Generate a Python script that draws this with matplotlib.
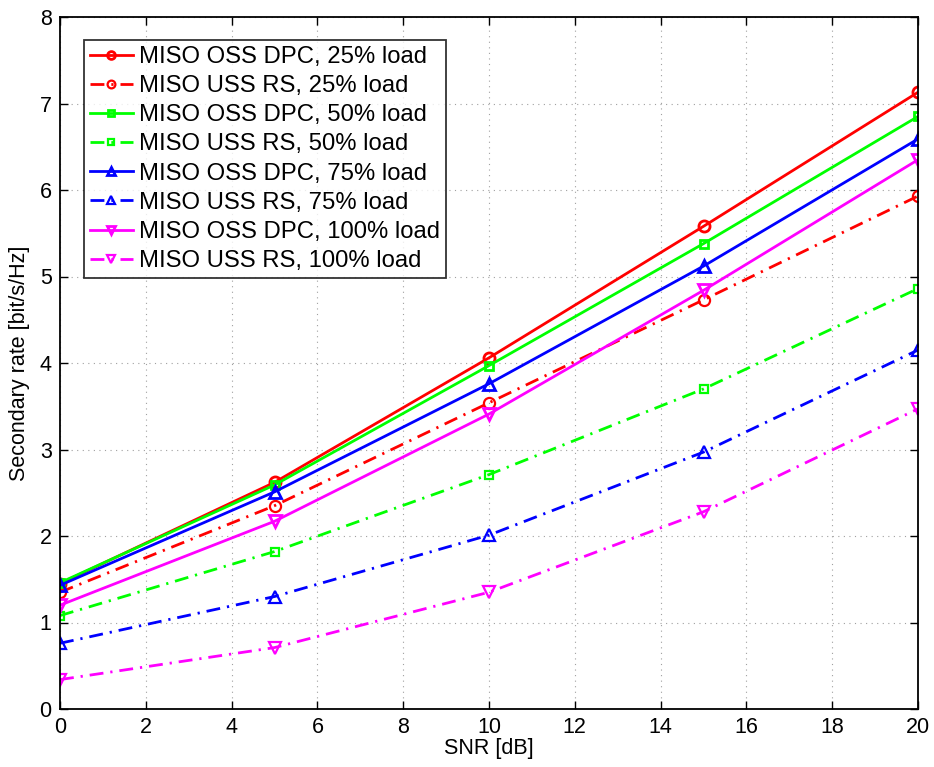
import matplotlib
matplotlib.use("Agg")
import matplotlib.pyplot as plt

plt.rcParams['font.family'] = ['Liberation Sans', 'DejaVu Sans']

snr_db = [0, 5, 10, 15, 20]

oss_dpc_25 = [1.45, 2.62, 4.06, 5.58, 7.13]
uss_rs_25 = [1.35, 2.35, 3.54, 4.73, 5.93]
oss_dpc_50 = [1.46, 2.59, 3.97, 5.38, 6.85]
uss_rs_50 = [1.08, 1.82, 2.71, 3.70, 4.86]
oss_dpc_75 = [1.43, 2.51, 3.76, 5.12, 6.59]
uss_rs_75 = [0.76, 1.30, 2.01, 2.97, 4.15]
oss_dpc_100 = [1.20, 2.17, 3.41, 4.84, 6.35]
uss_rs_100 = [0.34, 0.71, 1.35, 2.28, 3.47]

labels = [
    "MISO OSS DPC, 25% load",
    "MISO USS RS, 25% load",
    "MISO OSS DPC, 50% load",
    "MISO USS RS, 50% load",
    "MISO OSS DPC, 75% load",
    "MISO USS RS, 75% load",
    "MISO OSS DPC, 100% load",
    "MISO USS RS, 100% load",
]
series = [oss_dpc_25, uss_rs_25, oss_dpc_50, uss_rs_50,
          oss_dpc_75, uss_rs_75, oss_dpc_100, uss_rs_100]
colors = ["#ff0000", "#ff0000", "#00ff00", "#00ff00",
          "#0000ff", "#0000ff", "#ff00ff", "#ff00ff"]
markers = ["o", "o", "s", "s", "^", "^", "v", "v"]
dashdot = (0, (5, 2.5, 0.8, 2.5))
styles = ["-", dashdot, "-", dashdot, "-", dashdot, "-", dashdot]
msizes = [8, 8, 6, 6, 9, 9, 9, 9]

fig = plt.figure(figsize=(9.34, 7.67), dpi=100)
ax = fig.add_axes([60 / 934, 1 - 709 / 767, 858 / 934, 692 / 767])

for y, lab, c, m, ls, ms in zip(series, labels, colors, markers, styles, msizes):
    solid = ls == "-"
    ax.plot(snr_db, y, linestyle=ls, color=c, marker=m, markersize=ms,
            markerfacecolor="none", markeredgecolor=c,
            markeredgewidth=2.0 if solid else 1.6,
            linewidth=2.0, label=lab)

ax.set_xlim(0, 20)
ax.set_ylim(0, 8)
ax.set_xticks(range(0, 21, 2))
ax.set_yticks(range(0, 9))
ax.grid(True, linestyle=(0, (1, 4)), color="#a0a0a0", linewidth=0.8)
ax.tick_params(direction="in", length=6, width=1, labelsize=15.5, top=True, right=True, pad=6)
for sp in ax.spines.values():
    sp.set_linewidth(1.3)
ax.set_xlabel("SNR [dB]", fontsize=15.5, labelpad=0)
ax.set_ylabel("Secondary rate [bit/s/Hz]", fontsize=15.5, labelpad=7)

leg = ax.legend(loc="upper left", bbox_to_anchor=(24 / 858, 1 - 23 / 692),
                fontsize=17.2, frameon=True, fancybox=False, edgecolor="black",
                borderpad=0.25, labelspacing=0.3, handlelength=1.8,
                handletextpad=0.25, borderaxespad=0, markerscale=0.7)
leg.get_frame().set_linewidth(1.3)

fig.savefig("out.png", dpi=100)
